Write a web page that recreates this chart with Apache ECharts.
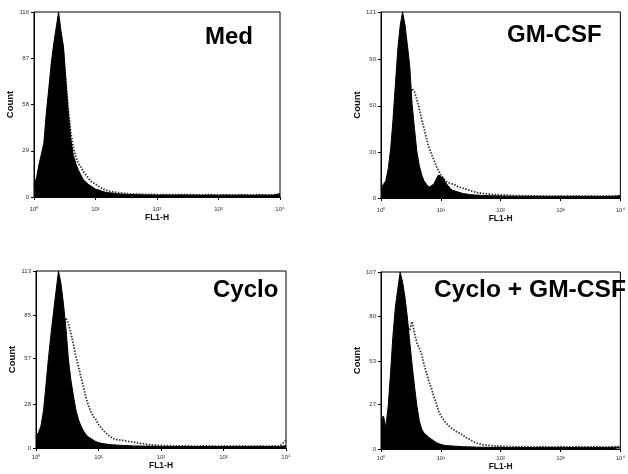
<!DOCTYPE html>
<html>
<head>
<meta charset="utf-8">
<script src="https://cdn.jsdelivr.net/npm/echarts@6/dist/echarts.min.js"></script>
<style>
html, body { margin: 0; padding: 0; background: #fff; }
#chart { width: 628px; height: 474px; }
</style>
</head>
<body>
<div id="chart"></div>
<script>
// FL1-H channel values (log spaced), shared by every histogram
const channels = [1.00, 1.10, 1.20, 1.32, 1.45, 1.58, 1.74, 1.91, 2.09, 2.29,
  2.51, 2.75, 3.02, 3.31, 3.63, 3.98, 4.37, 4.79, 5.25, 5.75,
  6.31, 6.92, 7.59, 8.32, 9.12, 10.0, 11.0, 12.0, 13.2, 14.5,
  15.8, 17.4, 19.1, 20.9, 22.9, 25.1, 27.5, 30.2, 33.1, 36.3,
  39.8, 50.1, 63.1, 79.4, 100, 126, 158, 200, 251, 316,
  398, 501, 631, 794, 1000, 1259, 1585, 1995, 2512, 3162,
  3981, 5012, 6310, 7943, 10000]

// filled = control (black), line = treated (dotted)
const medFill = [8, 12, 20, 27, 34, 52, 68, 84, 96, 106,
  116, 104, 94, 72, 52, 36, 26, 21, 17, 14,
  11, 9.5, 8, 7, 6, 5, 4.5, 4, 3.5, 3,
  2.8, 2.6, 2.4, 2.2, 2, 1.9, 1.8, 1.7, 1.6, 1.5,
  1.5, 1.4, 1.3, 1.3, 1.2, 1.3, 1.2, 1.2, 1.3, 1.2,
  1.2, 1.1, 1.2, 1.2, 1.1, 1.2, 1.1, 1.1, 1.2, 1.1,
  1.1, 1.2, 1.1, 1.2, 2]
const medLine = [6, 10, 17, 24, 30, 46, 62, 78, 90, 100,
  108, 100, 90, 72, 54, 40, 31, 25, 21, 19,
  16, 14, 12, 10, 9, 8, 7, 6, 5, 4.5,
  4, 3.5, 3.2, 3, 2.8, 2.6, 2.4, 2.2, 2.1, 2,
  1.9, 1.8, 1.7, 1.6, 1.5, 1.5, 1.4, 1.4, 1.5, 1.4,
  1.4, 1.3, 1.4, 1.4, 1.3, 1.4, 1.3, 1.4, 1.4, 1.3,
  1.4, 1.4, 1.3, 1.4, 2]

const gmFill = [7, 9, 11, 19, 32, 50, 74, 97, 112, 121,
  113, 100, 86, 61, 45, 30, 21, 15, 11, 9,
  7, 8, 9, 12, 15, 14, 13, 10, 8, 6,
  5, 4.5, 4, 3.5, 3, 2.8, 2.5, 2.3, 2.1, 2,
  1.9, 1.7, 1.5, 1.4, 1.3, 1.2, 1.2, 1.1, 1.2, 1.1,
  1.1, 1.1, 1, 1.1, 1.1, 1, 1.1, 1.1, 1, 1.1,
  1.1, 1, 1.1, 1.1, 1.5]
const gmLine = [5, 7, 9, 14, 20, 28, 37, 46, 54, 60,
  64, 67, 69, 71, 69, 64, 58, 51, 45, 39,
  33, 29, 25, 21, 18, 15, 13, 11, 10, 9.5,
  9, 8.5, 7.5, 7, 6.5, 6, 5.5, 5, 4.5, 4,
  3.5, 3, 2.6, 2.2, 2, 1.8, 1.6, 1.5, 1.4, 1.3,
  1.3, 1.2, 1.3, 1.2, 1.2, 1.3, 1.2, 1.2, 1.3, 1.2,
  1.2, 1.3, 1.2, 1.3, 1.5]

const cycloFill = [8, 10, 14, 24, 41, 57, 73, 87, 100, 113,
  105, 92, 76, 56, 43, 33, 24, 18, 14, 11,
  8.5, 7, 6, 5, 4, 3.5, 3, 2.8, 2.5, 2.3,
  2.1, 2, 1.9, 1.8, 1.7, 1.6, 1.6, 1.5, 1.4, 1.3,
  1.3, 1.2, 1.2, 1.1, 1, 1, 0.9, 0.9, 0.9, 1,
  0.9, 0.9, 1, 0.9, 0.9, 0.9, 1, 0.9, 0.9, 1,
  0.9, 0.9, 1, 1, 1.5]
const cycloLine = [6, 8, 10, 15, 22, 30, 40, 50, 60, 68,
  75, 80, 83, 79, 73, 66, 58, 52, 45, 39,
  32, 27, 23, 20, 18, 15, 13, 11, 9.5, 8,
  7, 6, 5.5, 5.2, 5, 4.8, 4.5, 4.2, 4, 3.8,
  3.3, 2.8, 2.2, 1.8, 1.6, 1.5, 1.4, 1.3, 1.3, 1.2,
  1.2, 1.3, 1.2, 1.2, 1.3, 1.2, 1.2, 1.3, 1.2, 1.2,
  1.3, 1.2, 1.3, 1.2, 5]

const comboFill = [18, 20, 13, 26, 47, 68, 86, 97, 107, 101,
  92, 80, 65, 51, 38, 26, 17, 12, 9.5, 8.5,
  7, 6, 5, 4, 3.3, 2.8, 2.4, 2.1, 2, 1.9,
  1.8, 1.7, 1.6, 1.5, 1.4, 1.4, 1.3, 1.3, 1.2, 1.2,
  1.1, 1.1, 1, 1, 1, 0.9, 0.9, 1, 0.9, 0.9,
  0.9, 1, 0.9, 0.9, 1, 0.9, 0.9, 1, 0.9, 0.9,
  1, 0.9, 0.9, 1, 1.2]
const comboLine = [10, 12, 10, 16, 22, 30, 38, 46, 54, 62,
  67, 70, 72, 77, 70, 64, 61, 57, 51, 46,
  41, 37, 32, 28, 23, 20, 18, 16, 14.5, 13,
  12, 11, 10, 9.5, 8.5, 7.5, 6.5, 5.8, 5, 4.2,
  3.6, 2.6, 2.2, 1.9, 1.7, 1.5, 1.4, 1.3, 1.4, 1.3,
  1.3, 1.4, 1.3, 1.3, 1.4, 1.3, 1.3, 1.4, 1.3, 1.3,
  1.4, 1.3, 1.3, 1.4, 1.5]

// axis tick labels
const decadeTicks = [1, 10, 100, 1000, 10000]
const medTicks = [0, 29, 58, 87, 116]
const gmTicks = [0, 30, 60, 90, 121]
const cycloTicks = [0, 28, 57, 85, 113]
const comboTicks = [0, 27, 53, 80, 107]

const names = ['Med', 'GM-CSF', 'Cyclo', 'Cyclo + GM-CSF']

const sup = ['\u2070', '\u00b9', '\u00b2', '\u00b3', '\u2074']
const font = '"Liberation Sans", Arial, sans-serif'

// layout of the four panels (pixels)
const panels = [
  { fill: medFill, line: medLine, ticks: medTicks,
    grid: { left: 34, top: 12, width: 246, height: 185 },
    title: [205, 37], titleSize: 24, labelMargin: 9, nameGap: 16 },
  { fill: gmFill, line: gmLine, ticks: gmTicks,
    grid: { left: 381, top: 12, width: 243, height: 186 },
    title: [507, 35], titleSize: 24, labelMargin: 9, nameGap: 15 },
  { fill: cycloFill, line: cycloLine, ticks: cycloTicks,
    grid: { left: 36, top: 271, width: 250, height: 177 },
    title: [213, 290], titleSize: 24, labelMargin: 6, nameGap: 13 },
  { fill: comboFill, line: comboLine, ticks: comboTicks,
    grid: { left: 381, top: 272, width: 246, height: 177 },
    title: [434, 290], titleSize: 24.6, labelMargin: 6, nameGap: 13 }
]

const pairs = (ys) => channels.map((x, i) => [x, ys[i]])

const chart = echarts.init(document.getElementById('chart'), null, { renderer: 'canvas' })

const option = {
  backgroundColor: '#fff',
  animation: false,
  grid: panels.map(p => Object.assign({ show: true, borderColor: '#000', borderWidth: 1, containLabel: false }, p.grid)),
  xAxis: panels.map((p, i) => ({
    type: 'log',
    logBase: 10,
    gridIndex: i,
    min: 1,
    max: 10000,
    name: 'FL1-H',
    nameLocation: 'middle',
    nameGap: p.nameGap,
    nameTextStyle: { fontFamily: font, fontWeight: 'bold', fontSize: 8.5, color: '#111' },
    axisLine: { lineStyle: { color: '#000', width: 1 } },
    axisTick: { show: true, length: 3, customValues: decadeTicks, lineStyle: { color: '#000' } },
    minorTick: { show: false },
    splitLine: { show: false },
    axisLabel: {
      customValues: decadeTicks,
      margin: p.labelMargin,
      fontFamily: font,
      fontSize: 6,
      color: '#333',
      formatter: v => '10' + sup[Math.round(Math.log10(v))]
    }
  })),
  yAxis: panels.map((p, i) => ({
    type: 'value',
    gridIndex: i,
    min: 0,
    max: p.ticks[p.ticks.length - 1],
    name: 'Count',
    nameLocation: 'middle',
    nameGap: 15,
    nameTextStyle: { fontFamily: font, fontWeight: 'bold', fontSize: 9.5, color: '#111' },
    axisLine: { show: true, lineStyle: { color: '#000', width: 1 } },
    axisTick: { show: true, length: 3, customValues: p.ticks, lineStyle: { color: '#000' } },
    splitLine: { show: false },
    axisLabel: {
      customValues: p.ticks,
      margin: 5,
      fontFamily: font,
      fontSize: 6,
      color: '#333'
    }
  })),
  graphic: panels.map((p, i) => ({
    type: 'text',
    x: p.title[0],
    y: p.title[1],
    style: {
      text: names[i],
      font: 'bold ' + p.titleSize + 'px ' + font,
      fill: '#000',
      align: 'left',
      verticalAlign: 'middle'
    }
  })),
  series: panels.flatMap((p, i) => [
    {
      type: 'line',
      xAxisIndex: i,
      yAxisIndex: i,
      data: pairs(p.line),
      symbol: 'none',
      z: 1,
      lineStyle: { color: '#333', width: 1.8, type: [1.5, 1.5] }
    },
    {
      type: 'line',
      xAxisIndex: i,
      yAxisIndex: i,
      data: pairs(p.fill),
      symbol: 'none',
      z: 2,
      lineStyle: { color: '#000', width: 1 },
      areaStyle: { color: '#000', opacity: 1 }
    }
  ])
}

chart.setOption(option)
</script>
</body>
</html>
